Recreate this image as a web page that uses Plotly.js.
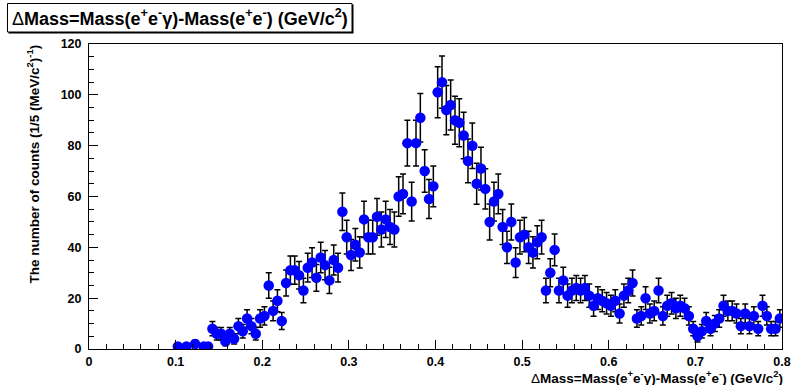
<!DOCTYPE html>
<html>
<head>
<meta charset="utf-8">
<script src="https://cdn.plot.ly/plotly-3.0.1.min.js"></script>
<style>
  html, body { margin: 0; padding: 0; background: #ffffff; }
  #chart { width: 801px; height: 385px; }
</style>
</head>
<body>
<div id="chart"></div>
<script>
// Histogram of the mass difference, 5 MeV/c^2 bins starting at 0.1 GeV/c^2
const binLow = 0.1;
const binWidth = 0.005;
const counts = [
  1, 0, 1, 0, 2, 0, 1, 1, 8, 6,
  6, 3, 6, 4, 9, 7, 12, 9, 6, 12,
  13, 25, 15, 19, 11, 26, 31, 31, 29, 23,
  32, 34, 28, 36, 33, 27, 35, 32, 54, 44,
  37, 41, 38, 51, 44, 44, 52, 47, 51, 48,
  47, 60, 61, 81, 58, 81, 91, 70, 59, 64,
  101, 105, 94, 96, 90, 89, 84, 74, 80, 65,
  71, 63, 50, 58, 61, 48, 40, 50, 34, 44,
  45, 40, 38, 42, 44, 23, 30, 39, 23, 27,
  21, 23, 24, 23, 24, 21, 17, 20, 19, 18,
  17, 19, 14, 21, 23, 26, 12, 13, 20, 14,
  15, 23, 13, 17, 18, 16, 17, 16, 13, 8,
  5, 7, 11, 8, 10, 12, 17, 15, 15, 14,
  9, 14, 9, 13, 8, 17, 13, 8, 8, 12
];
const xTickVals = [0, 0.1, 0.2, 0.3, 0.4, 0.5, 0.6, 0.7, 0.8];
const xTickText = ["0", "0.1", "0.2", "0.3", "0.4", "0.5", "0.6", "0.7", "0.8"];
const yTickVals = [0, 20, 40, 60, 80, 100, 120];
const yTickText = ["0", "20", "40", "60", "80", "100", "120"];

const massText = '<span style="font-weight:normal">\u0394</span>Mass=Mass(e<sup>+</sup>e<sup>-</sup>\u03b3)-Mass(e<sup>+</sup>e<sup>-</sup>) (GeV/c<sup>2</sup>)';
const yTitleText = 'The number of counts (1/5 (MeV/c<sup>2</sup>)<sup>-1</sup>)';

// empty bins are not drawn
const xs = [], ys = [];
counts.forEach((c, i) => {
  if (c > 0) {
    xs.push(binLow + binWidth * (i + 0.5));
    ys.push(c);
  }
});

// frame geometry in pixels
const W = 801, H = 385;
const L = 89, R = 782, T = 44, B = 349;
const px = v => (v - L) / (R - L);
const py = v => (B - v) / (B - T);

const FONT = "Liberation Sans, Arial, sans-serif";

const trace = {
  type: "scatter",
  mode: "markers",
  x: xs,
  y: ys,
  marker: { symbol: "circle", size: 10.5, color: "#0000ff", line: { width: 0 } },
  error_y: { type: "sqrt", visible: true, color: "#000000", thickness: 1.5, width: 3 },
  hoverinfo: "x+y"
};

const layout = {
  width: W,
  height: H,
  margin: { l: L, r: W - R, t: T, b: H - B, pad: 0 },
  paper_bgcolor: "#ffffff",
  plot_bgcolor: "#ffffff",
  showlegend: false,
  font: { family: FONT, color: "#000000" },
  xaxis: {
    range: [0, 0.8],
    tickmode: "array",
    tickvals: xTickVals,
    ticktext: xTickText,
    ticks: "inside",
    ticklen: 9,
    tickwidth: 1,
    tickcolor: "#000000",
    minor: { dtick: 0.02, ticks: "inside", ticklen: 5, tickcolor: "#000000", tickwidth: 1, showgrid: false },
    showgrid: false,
    zeroline: false,
    showline: true,
    linecolor: "#000000",
    linewidth: 1,
    mirror: true,
    tickfont: { family: FONT, size: 12.5, weight: "bold", color: "#000000" },
    ticklabelstandoff: 1
  },
  yaxis: {
    range: [0, 120],
    tickmode: "array",
    tickvals: yTickVals,
    ticktext: yTickText,
    ticks: "inside",
    ticklen: 9,
    tickwidth: 1,
    tickcolor: "#000000",
    minor: { dtick: 5, ticks: "inside", ticklen: 5, tickcolor: "#000000", tickwidth: 1, showgrid: false },
    showgrid: false,
    zeroline: false,
    showline: true,
    linecolor: "#000000",
    linewidth: 1,
    mirror: true,
    tickfont: { family: FONT, size: 12.5, weight: "bold", color: "#000000" },
    ticklabelstandoff: 4
  },
  shapes: [
    // title box with a thin drop shadow
    { type: "rect", xref: "paper", yref: "paper",
      x0: px(8.5), x1: px(353.5), y0: py(33.5), y1: py(4.5),
      line: { width: 0 }, fillcolor: "#000000", layer: "above" },
    { type: "rect", xref: "paper", yref: "paper",
      x0: px(7.5), x1: px(352), y0: py(32), y1: py(3.5),
      line: { width: 1, color: "#000000" }, fillcolor: "#ffffff", layer: "above" }
  ],
  annotations: [
    { text: massText, xref: "paper", yref: "paper",
      x: px(180), y: py(18), xanchor: "center", yanchor: "middle",
      showarrow: false, font: { family: FONT, size: 18, weight: "bold", color: "#000000" } },
    { text: massText, xref: "paper", yref: "paper",
      x: px(784), y: py(387), xanchor: "right", yanchor: "bottom",
      showarrow: false, borderpad: 0, font: { family: FONT, size: 13.5, weight: "bold", color: "#000000" } },
    { text: yTitleText, xref: "paper", yref: "paper", textangle: -90,
      x: px(33), y: py(43), xanchor: "center", yanchor: "top",
      showarrow: false, font: { family: FONT, size: 13.5, weight: "bold", color: "#000000" } }
  ]
};

Plotly.newPlot("chart", [trace], layout, { displayModeBar: false, staticPlot: true });
</script>
</body>
</html>
